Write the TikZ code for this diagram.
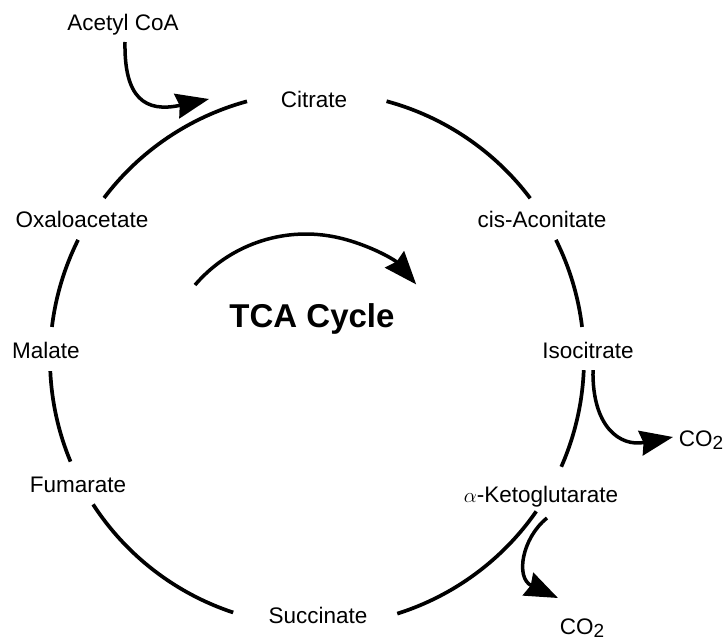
\documentclass[tikz,border=0pt]{standalone}
\usepackage{fontspec}
\setmainfont{Liberation Sans}
\usetikzlibrary{arrows.meta}
\tikzset{
  lbl/.style={font=\fontsize{22.5}{27}\selectfont, inner sep=0pt, anchor=base},
  title/.style={font=\fontsize{33}{38}\selectfont\bfseries, inner sep=0pt, anchor=base},
  cyc/.style={line width=3.7pt},
  arr/.style={line width=3.5pt, -{Stealth[length=33pt,width=25pt,inset=3pt]}},
}
\newcommand{\cotwo}{CO\raisebox{-0.3ex}{\fontsize{19}{22}\selectfont 2}}
\begin{document}
\begin{tikzpicture}[x=1pt,y=1pt]
\useasboundingbox (0,0) rectangle (728,-642);
% labels
\node[lbl] (acetyl) at (123,-31) {Acetyl CoA};
\node[lbl] (cit) at (314,-107) {Citrate};
\node[lbl] (cis) at (542,-227) {cis-Aconitate};
\node[lbl] (iso) at (588,-358) {Isocitrate};
\node[lbl] (co2a) at (701,-446) {\cotwo};
\node[lbl] (akg) at (541,-502) {$\alpha$-Ketoglutarate};
\node[lbl] (co2b) at (582,-634) {\cotwo};
\node[lbl] (suc) at (318,-623) {Succinate};
\node[lbl] (fum) at (78,-492) {Fumarate};
\node[lbl] (mal) at (46,-358) {Malate};
\node[lbl] (oxa) at (82,-227) {Oxaloacetate};
\node[title] (tca) at (312,-327) {TCA Cycle};
% cycle arcs
\coordinate (O) at (317,-359);
\def\R{267}
\draw[cyc] ([shift={(105.2:\R)}]O) arc[start angle=105.2,end angle=142.9,radius=\R];
\draw[cyc] ([shift={(74.9:\R)}]O) arc[start angle=74.9,end angle=37.0,radius=\R];
\draw[cyc] ([shift={(26.5:\R)}]O) arc[start angle=26.5,end angle=6.9,radius=\R];
\draw[cyc] ([shift={(-2.4:\R)}]O) arc[start angle=-2.4,end angle=-23.8,radius=\R];
\draw[cyc] ([shift={(-34.8:\R)}]O) arc[start angle=-34.8,end angle=-72.5,radius=\R];
\draw[cyc] ([shift={(-108.3:\R)}]O) arc[start angle=-108.3,end angle=-147,radius=\R];
\draw[cyc] ([shift={(-157.4:\R)}]O) arc[start angle=-157.4,end angle=-177.4,radius=\R];
\draw[cyc] ([shift={(173.1:\R)}]O) arc[start angle=173.1,end angle=153.5,radius=\R];
% arrows
\coordinate (acs) at (125,-42);
\coordinate (act) at (209,-99);
\draw[arr] (acs) .. controls (124,-98) and (145,-113) .. (act);
\coordinate (ins) at (195,-285);
\draw[arr] (ins) arc[start angle=139.4,end angle=40.9,radius=146];
\coordinate (isos) at (593,-370);
\coordinate (isot) at (673,-437);
\draw[arr] (isos) .. controls (592,-427) and (620,-447) .. (isot);
\coordinate (akgs) at (547,-518);
\coordinate (akgt) at (558,-598);
\draw[arr] (akgs) .. controls (522,-538) and (515,-578) .. (akgt);
\end{tikzpicture}
\end{document}
